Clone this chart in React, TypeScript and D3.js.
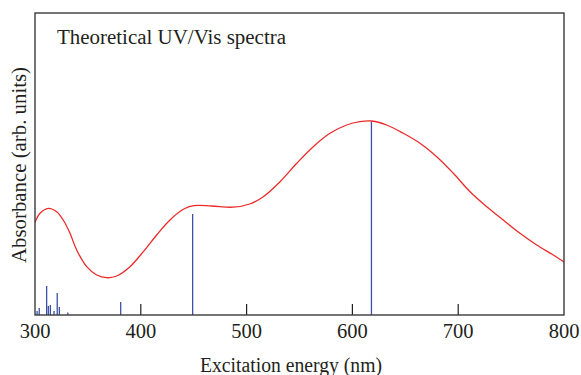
import React from "react";
import * as d3 from "d3";

const curveNm = [300, 304.7, 312.6, 320.5, 326.7, 333.1, 339.4, 348.9, 358.3, 367.8, 377.2, 389.8, 402.4, 415, 427.6, 440.2, 450, 467, 487, 503, 515.8, 531.6, 547.4, 563, 578.8, 594.6, 607, 618.3, 632.4, 648.1, 663.9, 679.7, 695.4, 711.2, 727, 742.6, 758.4, 774.2, 789.9, 800];
const curveVal = [92.5, 101.7, 106.7, 103.3, 95, 81.7, 65, 48.3, 40, 37.3, 39, 48.3, 63.3, 80, 95, 105.7, 109.3, 109, 107.8, 111, 118.3, 133.3, 151.7, 168.3, 181.7, 190, 193.3, 194, 190, 181.7, 171.7, 158.3, 141.7, 123.3, 108.3, 95, 81.7, 70, 60, 53];

const stickNm = [302, 304, 311, 312.6, 314.5, 318, 321, 323, 331, 381, 449, 618];
const stickVal = [4, 7, 29, 9, 10, 4, 22, 8, 2.5, 13, 101, 193.5];

const xTicks = [300, 400, 500, 600, 700, 800];

const W = 581;
const H = 375;
const left = 35;
const right = 564;
const top = 13;
const bottom = 315;

export default function App() {
  const x = d3.scaleLinear().domain([300, 800]).range([left, right]);
  const y = d3.scaleLinear().domain([0, 302]).range([bottom, top]);
  const pts: [number, number][] = curveNm.map((n, i) => [n, curveVal[i]]);
  const line = d3
    .line<[number, number]>()
    .x((d) => x(d[0]))
    .y((d) => y(d[1]))
    .curve(d3.curveCatmullRom.alpha(0.5));
  const font = "'Liberation Serif', 'Times New Roman', serif";
  const textColor = "#231f20";
  return (
    <svg
      width={W}
      height={H}
      style={{ position: "absolute", left: 0, top: 0, background: "#fff" }}
    >
      <defs>
        <clipPath id="plotclip">
          <rect x={left} y={top} width={right - left} height={bottom - top} />
        </clipPath>
      </defs>
      {stickNm.map((n, i) => (
        <line
          key={i}
          x1={x(n)}
          x2={x(n)}
          y1={y(0)}
          y2={y(stickVal[i])}
          stroke="#3c50a8"
          strokeWidth={1.3}
        />
      ))}
      <path
        d={line(pts) || ""}
        fill="none"
        stroke="#ec2a2a"
        strokeWidth={1.3}
        clipPath="url(#plotclip)"
      />
      {xTicks.slice(1, -1).map((t) => (
        <line
          key={t}
          x1={x(t)}
          x2={x(t)}
          y1={bottom}
          y2={bottom - 11}
          stroke="#231f20"
          strokeWidth={1.2}
        />
      ))}
      <rect
        x={left}
        y={top}
        width={right - left}
        height={bottom - top}
        fill="none"
        stroke="#3a3a3a"
        strokeWidth={1.4}
      />
      {xTicks.map((t) => (
        <text
          key={t}
          x={x(t)}
          y={338}
          textAnchor="middle"
          fontFamily={font}
          fontSize={20.5}
          fill={textColor}
        >
          {t}
        </text>
      ))}
      <text
        x={291}
        y={372}
        textAnchor="middle"
        fontFamily={font}
        fontSize={20}
        fill={textColor}
        textLength={182}
        lengthAdjust="spacingAndGlyphs"
      >
        Excitation energy (nm)
      </text>
      <text
        transform={`translate(26,165) rotate(-90)`}
        textAnchor="middle"
        fontFamily={font}
        fontSize={20}
        fill={textColor}
        textLength={196}
        lengthAdjust="spacingAndGlyphs"
      >
        Absorbance (arb. units)
      </text>
      <text
        x={57}
        y={44}
        fontFamily={font}
        fontSize={20.5}
        fill={textColor}
        textLength={229}
        lengthAdjust="spacingAndGlyphs"
      >
        Theoretical UV/Vis spectra
      </text>
    </svg>
  );
}
